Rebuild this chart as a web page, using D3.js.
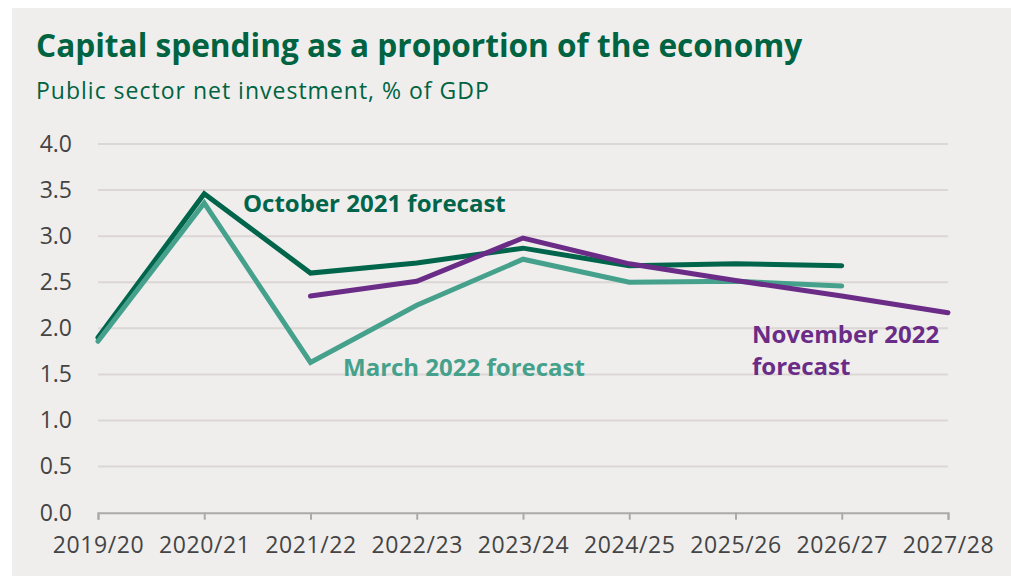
<!DOCTYPE html>
<html>
<head>
<meta charset="utf-8">
<script src="https://cdn.jsdelivr.net/npm/d3@7"></script>
<style>
  html, body { margin: 0; padding: 0; background: #ffffff; }
  svg { display: block; }
  text { font-family: "Open Sans", "Noto Sans", sans-serif; }
</style>
</head>
<body>
<svg id="chart" width="1011" height="576"></svg>
<script>
// Fiscal years on the horizontal axis
const years = ["2019/20", "2020/21", "2021/22", "2022/23", "2023/24",
               "2024/25", "2025/26", "2026/27", "2027/28"];

// Public sector net investment, % of GDP, by forecast vintage
const october2021 = [1.90, 3.46, 2.60, 2.71, 2.87, 2.68, 2.70, 2.68, null];
const march2022   = [1.86, 3.36, 1.63, 2.25, 2.75, 2.50, 2.51, 2.46, null];
const november2022 = [null, null, 2.35, 2.51, 2.98, 2.70, 2.52, 2.35, 2.17];

const yTicks = [0, 0.5, 1.0, 1.5, 2.0, 2.5, 3.0, 3.5, 4.0];

const svg = d3.select("#chart");

// panel background
svg.append("rect")
  .attr("x", 12).attr("y", 8)
  .attr("width", 1011 - 12).attr("height", 576 - 8)
  .attr("fill", "#efeeed");

// headings
svg.append("text")
  .attr("x", 36).attr("y", 57)
  .attr("fill", "#006341")
  .attr("font-size", 31.6).attr("font-weight", 700)
  .text("Capital spending as a proportion of the economy");

svg.append("text")
  .attr("x", 36).attr("y", 99)
  .attr("fill", "#006341")
  .attr("font-size", 23).attr("letter-spacing", 1)
  .text("Public sector net investment, % of GDP");

const x = d3.scalePoint().domain(years).range([98, 948]);
const y = d3.scaleLinear().domain([0, 4]).range([512.7, 144]);

// horizontal gridlines
svg.append("g")
  .selectAll("line")
  .data(yTicks.filter(d => d > 0))
  .join("line")
  .attr("x1", 98).attr("x2", 948)
  .attr("y1", d => y(d)).attr("y2", d => y(d))
  .attr("stroke", "#dcd6d5").attr("stroke-width", 2);

// y axis labels
const yAxis = svg.append("g")
  .attr("transform", "translate(98,0)")
  .call(d3.axisLeft(y).tickValues(yTicks).tickFormat(d3.format(".1f")).tickSize(0).tickPadding(26));
yAxis.select(".domain").remove();
yAxis.selectAll("text")
  .attr("font-family", "'Open Sans', sans-serif")
  .attr("font-size", 23).attr("fill", "#444444");

// x axis
const xAxis = svg.append("g")
  .attr("transform", `translate(0,${y(0)})`)
  .call(d3.axisBottom(x).tickSizeInner(7).tickSizeOuter(7).tickPadding(17));
xAxis.select(".domain").attr("stroke", "#aaaaaa").attr("stroke-width", 2);
xAxis.selectAll(".tick line").attr("stroke", "#aaaaaa").attr("stroke-width", 2);
xAxis.selectAll("text")
  .attr("font-family", "'Open Sans', sans-serif")
  .attr("font-size", 23).attr("letter-spacing", 0.6).attr("fill", "#444444");

// forecast lines
const series = [
  { values: october2021, color: "#00654a" },
  { values: march2022, color: "#45a18b" },
  { values: november2022, color: "#6a2c86" }
];

const line = d3.line()
  .defined(d => d.v != null)
  .x(d => x(d.year))
  .y(d => y(d.v));

svg.append("g")
  .selectAll("path")
  .data(series)
  .join("path")
  .attr("d", s => line(s.values.map((v, i) => ({ year: years[i], v }))))
  .attr("fill", "none")
  .attr("stroke", s => s.color)
  .attr("stroke-width", 5)
  .attr("stroke-linejoin", "miter")
  .attr("stroke-linecap", "round");

// direct labels
const labels = [
  { lines: ["October 2021 forecast"], x: 243, y: 212, color: "#00654a" },
  { lines: ["March 2022 forecast"], x: 343, y: 376, color: "#45a18b" },
  { lines: ["November 2022", "forecast"], x: 752, y: 343, color: "#6a2c86" }
];

labels.forEach(l => {
  const t = svg.append("text")
    .attr("x", l.x).attr("y", l.y)
    .attr("fill", l.color)
    .attr("font-size", 24).attr("font-weight", 700);
  l.lines.forEach((s, i) => {
    t.append("tspan").attr("x", l.x).attr("dy", i === 0 ? 0 : 32).text(s);
  });
});
</script>
</body>
</html>
